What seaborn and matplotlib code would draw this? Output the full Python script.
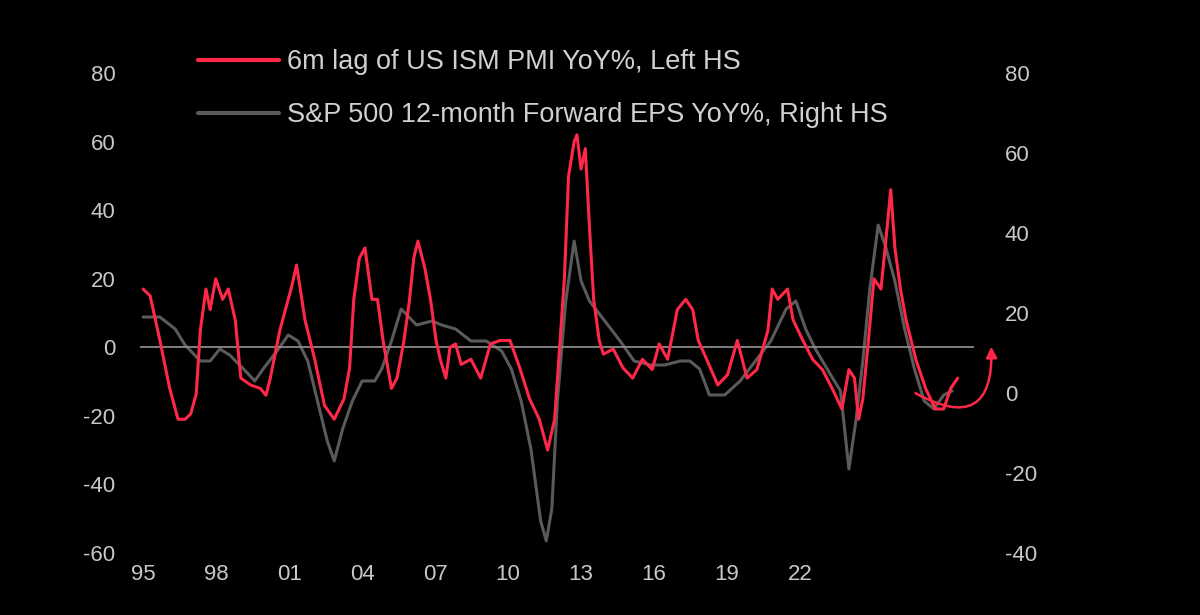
import numpy as np
import pandas as pd
import matplotlib.pyplot as plt
import seaborn as sns

# 6m lag of US ISM PMI YoY% (left axis)
pmi_year = [1995.0, 1995.25, 1995.6, 1995.95, 1996.25, 1996.5, 1996.7, 1996.9, 1997.05, 1997.25, 1997.4, 1997.6,
            1997.85, 1998.05, 1998.3, 1998.5, 1998.85, 1999.2, 1999.4, 1999.55, 1999.9, 2000.3, 2000.5, 2000.8,
            2001.15, 2001.5, 2001.85, 2002.2, 2002.4, 2002.55, 2002.75, 2002.95, 2003.2, 2003.4, 2003.6, 2003.9,
            2004.1, 2004.35, 2004.55, 2004.7, 2004.85, 2005.1, 2005.3, 2005.5, 2005.65, 2005.85, 2006.0, 2006.2,
            2006.4, 2006.75, 2007.1, 2007.45, 2007.8, 2008.15, 2008.5, 2008.85, 2009.2, 2009.5, 2009.75, 2009.9,
            2010.1, 2010.25, 2010.45, 2010.55, 2010.7, 2010.85, 2011.0, 2011.15, 2011.35, 2011.5, 2011.85, 2012.2,
            2012.55, 2012.9, 2013.25, 2013.5, 2013.8, 2014.15, 2014.45, 2014.7, 2014.9, 2015.2, 2015.6, 2015.95,
            2016.3, 2016.65, 2017.0, 2017.4, 2017.55, 2017.75, 2018.1, 2018.3, 2018.65, 2019.0, 2019.35, 2019.7,
            2020.05, 2020.3, 2020.5, 2020.65, 2020.8, 2021.0, 2021.2, 2021.45, 2021.6, 2021.8, 2021.95, 2022.15,
            2022.35, 2022.7, 2023.05, 2023.4, 2023.7, 2023.95, 2024.2]
pmi_val = [17, 15, 2, -12, -21, -21, -19.5, -13.7, 5, 17, 11, 20,
           14, 17, 8, -9, -11, -12, -14, -9.3, 5, 17, 24, 8,
           -3.5, -17, -21, -15, -6, 14, 26, 29, 14, 14, 2, -12,
           -9, 2, 14, 26, 31, 23, 14, 2, -3.5, -9, 0, 1,
           -5, -3.5, -9, 1, 2, 2, -6, -15, -21, -30, -21, -3.5,
           20, 50, 60, 62, 52, 58, 35, 14, 2, -2, -0.5, -6,
           -9, -3.5, -6.5, 1, -3.5, 11, 14, 11, 2, -3.5, -11, -8,
           2, -9, -6.5, 5, 17, 14, 17, 8, 2, -3.5, -6.5, -12,
           -18, -6.5, -9, -21, -15, 2, 20, 17, 29, 46, 29, 17,
           8, -3.5, -12, -18, -18, -12, -9]

# S&P 500 12-month forward EPS YoY% (right axis)
eps_year = [1995.0, 1995.6, 1996.15, 1996.5, 1997.05, 1997.4, 1997.75, 1998.1, 1998.6, 1999.0, 1999.3, 1999.85,
            2000.2, 2000.55, 2000.9, 2001.25, 2001.6, 2001.85, 2002.15, 2002.5, 2002.85, 2003.3, 2003.55, 2003.9,
            2004.25, 2004.8, 2005.35, 2005.7, 2006.2, 2006.75, 2007.3, 2007.85, 2008.2, 2008.55, 2008.9, 2009.25,
            2009.45, 2009.65, 2009.85, 2010.15, 2010.45, 2010.7, 2011.0, 2011.55, 2012.1, 2012.6, 2013.2, 2013.7,
            2014.25, 2014.6, 2014.95, 2015.3, 2015.85, 2016.4, 2016.95, 2017.5, 2018.05, 2018.4, 2018.75, 2019.1,
            2019.65, 2020.0, 2020.3, 2020.55, 2020.8, 2021.05, 2021.35, 2021.6, 2021.95, 2022.3, 2022.65, 2023.0,
            2023.35, 2023.7, 2024.0]
eps_val = [19, 19, 16, 12, 8, 8, 11, 9.5, 6, 3, 6, 11,
           14.5, 13, 8, -2, -12, -17, -9, -2, 3, 3, 6, 13,
           21, 17, 18, 17, 16, 13, 13, 10.5, 6, -2, -14, -32,
           -37, -29, -2, 23, 38, 28, 23, 18, 13, 8, 7, 7,
           8, 8, 6, -0.5, -0.5, 3, 8, 13, 21, 23, 16, 11,
           4.5, 0.5, -19, -7, 8, 26, 42, 37, 28, 16, 6, -2,
           -4, -0.5, 0.5]

tick_labels = ["95", "98", "01", "04", "07", "10", "13", "16", "19", "22"]

pmi = pd.DataFrame({"year": pmi_year, "value": pmi_val})
eps = pd.DataFrame({"year": eps_year, "value": eps_val})

sns.set_style("dark")
plt.rcParams["font.family"] = ["Liberation Sans", "DejaVu Sans"]
plt.rcParams["axes.unicode_minus"] = False

fig = plt.figure(figsize=(12, 6.15), dpi=100, facecolor="black")
ax = fig.add_axes([0.117, 0.101, 0.695, 0.78])
ax2 = ax.twinx()
for a in (ax, ax2):
    a.set_facecolor("none")
    for s in a.spines.values():
        s.set_visible(False)
    a.grid(False)
    a.tick_params(colors="#c8c8c8", labelsize=16, length=0)

ax.axhline(0, color="#8a8a8a", lw=1.3, zorder=1)
sns.lineplot(data=eps, x="year", y="value", ax=ax2, color="#5a5a5a", lw=2.2, zorder=2)
ax2.set_zorder(1)
ax.set_zorder(2)
ax.patch.set_visible(False)
sns.lineplot(data=pmi, x="year", y="value", ax=ax, color="#ff2848", lw=2.2, zorder=3)

ax.set_xlim(1994.9, 2024.8)
ax.set_ylim(-60, 80)
ax.set_yticks(np.arange(-60, 81, 20))
ax2.set_ylim(-40, 80)
ax2.set_yticks(np.arange(-40, 81, 20))
ax.set_xticks([1995 + k * 73 / 27.9 for k in range(len(tick_labels))])
ax.set_xticklabels(tick_labels)
ax.tick_params(axis="x", pad=8)
ax.tick_params(axis="y", pad=18)
ax2.tick_params(axis="y", pad=22)
for a in (ax, ax2):
    a.set_xlabel("")
    a.set_ylabel("")

ax.annotate("", xy=(2025.4, 1), xytext=(2022.6, -13),
            arrowprops=dict(arrowstyle="-|>", color="#ff2848", lw=1.8,
                            connectionstyle="arc3,rad=0.9", mutation_scale=16),
            annotation_clip=False)

fig.legend(handles=[plt.Line2D([], [], color="#ff2848", lw=3),
                    plt.Line2D([], [], color="#5a5a5a", lw=3)],
           labels=["6m lag of US ISM PMI YoY%, Left HS",
                   "S&P 500 12-month Forward EPS YoY%, Right HS"],
           loc="upper left", bbox_to_anchor=(0.165, 0.92), frameon=False,
           borderpad=0, borderaxespad=0, handletextpad=0.3,
           fontsize=19.5, labelcolor="#d0d0d0", handlelength=3.0, labelspacing=1.0)

fig.savefig("out.png", facecolor="black")
